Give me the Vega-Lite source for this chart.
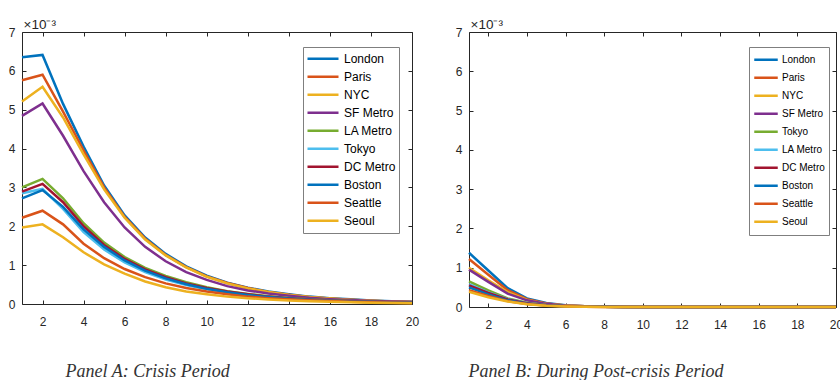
{
  "$schema": "https://vega.github.io/schema/vega-lite/v6.json",
  "background": "white",
  "padding": {"left": 8, "top": 17, "right": 0, "bottom": 0},
  "spacing": 36,
  "config": {
    "view": {"stroke": null},
    "axis": {
      "grid": false,
      "domainColor": "#262626",
      "domainWidth": 1,
      "tickColor": "#262626",
      "tickSize": -4,
      "tickWidth": 1,
      "labelFont": "Liberation Sans",
      "labelFontSize": 12,
      "labelColor": "#262626",
      "labelFlush": false,
      "labelPadding": 11
    }
  },
  "datasets": {
    "crisis": [
      {"t": 1, "London": 6.35, "Paris": 5.76, "NYC": 5.21, "SF Metro": 4.84, "LA Metro": 3.00, "Tokyo": 2.85, "DC Metro": 2.89, "Boston": 2.72, "Seattle": 2.22, "Seoul": 1.97},
      {"t": 2, "London": 6.41, "Paris": 5.90, "NYC": 5.59, "SF Metro": 5.16, "LA Metro": 3.22, "Tokyo": 2.96, "DC Metro": 3.09, "Boston": 2.93, "Seattle": 2.40, "Seoul": 2.05},
      {"t": 3, "London": 5.15, "Paris": 4.95, "NYC": 4.80, "SF Metro": 4.33, "LA Metro": 2.72, "Tokyo": 2.45, "DC Metro": 2.62, "Boston": 2.50, "Seattle": 2.05, "Seoul": 1.72},
      {"t": 4, "London": 4.05, "Paris": 3.95, "NYC": 3.85, "SF Metro": 3.42, "LA Metro": 2.08, "Tokyo": 1.85, "DC Metro": 2.00, "Boston": 1.92, "Seattle": 1.55, "Seoul": 1.33},
      {"t": 5, "London": 3.05, "Paris": 3.00, "NYC": 2.95, "SF Metro": 2.62, "LA Metro": 1.58, "Tokyo": 1.40, "DC Metro": 1.52, "Boston": 1.47, "Seattle": 1.18, "Seoul": 1.02},
      {"t": 6, "London": 2.28, "Paris": 2.24, "NYC": 2.22, "SF Metro": 1.97, "LA Metro": 1.21, "Tokyo": 1.07, "DC Metro": 1.16, "Boston": 1.12, "Seattle": 0.90, "Seoul": 0.78},
      {"t": 7, "London": 1.71, "Paris": 1.68, "NYC": 1.66, "SF Metro": 1.47, "LA Metro": 0.93, "Tokyo": 0.82, "DC Metro": 0.89, "Boston": 0.86, "Seattle": 0.69, "Seoul": 0.58},
      {"t": 8, "London": 1.29, "Paris": 1.26, "NYC": 1.25, "SF Metro": 1.10, "LA Metro": 0.72, "Tokyo": 0.63, "DC Metro": 0.69, "Boston": 0.66, "Seattle": 0.53, "Seoul": 0.43},
      {"t": 9, "London": 0.97, "Paris": 0.95, "NYC": 0.94, "SF Metro": 0.82, "LA Metro": 0.56, "Tokyo": 0.49, "DC Metro": 0.53, "Boston": 0.51, "Seattle": 0.41, "Seoul": 0.32},
      {"t": 10, "London": 0.73, "Paris": 0.71, "NYC": 0.70, "SF Metro": 0.62, "LA Metro": 0.43, "Tokyo": 0.38, "DC Metro": 0.41, "Boston": 0.39, "Seattle": 0.32, "Seoul": 0.25},
      {"t": 11, "London": 0.55, "Paris": 0.54, "NYC": 0.53, "SF Metro": 0.46, "LA Metro": 0.33, "Tokyo": 0.29, "DC Metro": 0.32, "Boston": 0.30, "Seattle": 0.25, "Seoul": 0.19},
      {"t": 12, "London": 0.42, "Paris": 0.41, "NYC": 0.40, "SF Metro": 0.35, "LA Metro": 0.26, "Tokyo": 0.23, "DC Metro": 0.25, "Boston": 0.23, "Seattle": 0.19, "Seoul": 0.15},
      {"t": 13, "London": 0.32, "Paris": 0.31, "NYC": 0.31, "SF Metro": 0.27, "LA Metro": 0.20, "Tokyo": 0.18, "DC Metro": 0.19, "Boston": 0.18, "Seattle": 0.15, "Seoul": 0.115},
      {"t": 14, "London": 0.25, "Paris": 0.24, "NYC": 0.23, "SF Metro": 0.21, "LA Metro": 0.155, "Tokyo": 0.14, "DC Metro": 0.15, "Boston": 0.14, "Seattle": 0.12, "Seoul": 0.09},
      {"t": 15, "London": 0.19, "Paris": 0.18, "NYC": 0.18, "SF Metro": 0.16, "LA Metro": 0.12, "Tokyo": 0.11, "DC Metro": 0.115, "Boston": 0.11, "Seattle": 0.095, "Seoul": 0.07},
      {"t": 16, "London": 0.15, "Paris": 0.14, "NYC": 0.14, "SF Metro": 0.125, "LA Metro": 0.095, "Tokyo": 0.085, "DC Metro": 0.09, "Boston": 0.085, "Seattle": 0.075, "Seoul": 0.055},
      {"t": 17, "London": 0.12, "Paris": 0.11, "NYC": 0.11, "SF Metro": 0.10, "LA Metro": 0.075, "Tokyo": 0.066, "DC Metro": 0.07, "Boston": 0.066, "Seattle": 0.058, "Seoul": 0.043},
      {"t": 18, "London": 0.09, "Paris": 0.085, "NYC": 0.085, "SF Metro": 0.08, "LA Metro": 0.06, "Tokyo": 0.052, "DC Metro": 0.055, "Boston": 0.052, "Seattle": 0.045, "Seoul": 0.034},
      {"t": 19, "London": 0.07, "Paris": 0.066, "NYC": 0.065, "SF Metro": 0.063, "LA Metro": 0.045, "Tokyo": 0.04, "DC Metro": 0.043, "Boston": 0.04, "Seattle": 0.035, "Seoul": 0.027},
      {"t": 20, "London": 0.055, "Paris": 0.052, "NYC": 0.05, "SF Metro": 0.05, "LA Metro": 0.035, "Tokyo": 0.032, "DC Metro": 0.033, "Boston": 0.032, "Seattle": 0.028, "Seoul": 0.021}
    ],
    "post": [
      {"t": 1, "London": 1.38, "Paris": 1.22, "NYC": 1.00, "SF Metro": 0.95, "Tokyo": 0.65, "LA Metro": 0.58, "DC Metro": 0.55, "Boston": 0.50, "Seattle": 0.43, "Seoul": 0.39},
      {"t": 2, "London": 0.93, "Paris": 0.82, "NYC": 0.68, "SF Metro": 0.64, "Tokyo": 0.42, "LA Metro": 0.37, "DC Metro": 0.36, "Boston": 0.32, "Seattle": 0.28, "Seoul": 0.25},
      {"t": 3, "London": 0.48, "Paris": 0.43, "NYC": 0.38, "SF Metro": 0.34, "Tokyo": 0.22, "LA Metro": 0.20, "DC Metro": 0.19, "Boston": 0.17, "Seattle": 0.15, "Seoul": 0.14},
      {"t": 4, "London": 0.22, "Paris": 0.20, "NYC": 0.18, "SF Metro": 0.17, "Tokyo": 0.11, "LA Metro": 0.10, "DC Metro": 0.095, "Boston": 0.085, "Seattle": 0.075, "Seoul": 0.07},
      {"t": 5, "London": 0.10, "Paris": 0.09, "NYC": 0.08, "SF Metro": 0.08, "Tokyo": 0.05, "LA Metro": 0.045, "DC Metro": 0.043, "Boston": 0.04, "Seattle": 0.035, "Seoul": 0.032},
      {"t": 6, "London": 0.045, "Paris": 0.04, "NYC": 0.036, "SF Metro": 0.035, "Tokyo": 0.022, "LA Metro": 0.02, "DC Metro": 0.019, "Boston": 0.018, "Seattle": 0.016, "Seoul": 0.014},
      {"t": 7, "London": 0.02, "Paris": 0.018, "NYC": 0.016, "SF Metro": 0.016, "Tokyo": 0.01, "LA Metro": 0.009, "DC Metro": 0.009, "Boston": 0.008, "Seattle": 0.007, "Seoul": 0.006},
      {"t": 8, "London": 0.009, "Paris": 0.008, "NYC": 0.007, "SF Metro": 0.007, "Tokyo": 0.005, "LA Metro": 0.004, "DC Metro": 0.004, "Boston": 0.004, "Seattle": 0.003, "Seoul": 0.003},
      {"t": 9, "London": 0.004, "Paris": 0.004, "NYC": 0.003, "SF Metro": 0.003, "Tokyo": 0.002, "LA Metro": 0.002, "DC Metro": 0.002, "Boston": 0.002, "Seattle": 0.001, "Seoul": 0.001},
      {"t": 10, "London": 0.002, "Paris": 0.002, "NYC": 0.001, "SF Metro": 0.001, "Tokyo": 0.001, "LA Metro": 0.001, "DC Metro": 0.001, "Boston": 0.001, "Seattle": 0.001, "Seoul": 0.0},
      {"t": 11, "London": 0.001, "Paris": 0.001, "NYC": 0.001, "SF Metro": 0.0, "Tokyo": 0.0, "LA Metro": 0.0, "DC Metro": 0.0, "Boston": 0.0, "Seattle": 0.0, "Seoul": 0.0},
      {"t": 12, "London": 0.0, "Paris": 0.0, "NYC": 0.0, "SF Metro": 0.0, "Tokyo": 0.0, "LA Metro": 0.0, "DC Metro": 0.0, "Boston": 0.0, "Seattle": 0.0, "Seoul": 0.0},
      {"t": 13, "London": 0.0, "Paris": 0.0, "NYC": 0.0, "SF Metro": 0.0, "Tokyo": 0.0, "LA Metro": 0.0, "DC Metro": 0.0, "Boston": 0.0, "Seattle": 0.0, "Seoul": 0.0},
      {"t": 14, "London": 0.0, "Paris": 0.0, "NYC": 0.0, "SF Metro": 0.0, "Tokyo": 0.0, "LA Metro": 0.0, "DC Metro": 0.0, "Boston": 0.0, "Seattle": 0.0, "Seoul": 0.0},
      {"t": 15, "London": 0.0, "Paris": 0.0, "NYC": 0.0, "SF Metro": 0.0, "Tokyo": 0.0, "LA Metro": 0.0, "DC Metro": 0.0, "Boston": 0.0, "Seattle": 0.0, "Seoul": 0.0},
      {"t": 16, "London": 0.0, "Paris": 0.0, "NYC": 0.0, "SF Metro": 0.0, "Tokyo": 0.0, "LA Metro": 0.0, "DC Metro": 0.0, "Boston": 0.0, "Seattle": 0.0, "Seoul": 0.0},
      {"t": 17, "London": 0.0, "Paris": 0.0, "NYC": 0.0, "SF Metro": 0.0, "Tokyo": 0.0, "LA Metro": 0.0, "DC Metro": 0.0, "Boston": 0.0, "Seattle": 0.0, "Seoul": 0.0},
      {"t": 18, "London": 0.0, "Paris": 0.0, "NYC": 0.0, "SF Metro": 0.0, "Tokyo": 0.0, "LA Metro": 0.0, "DC Metro": 0.0, "Boston": 0.0, "Seattle": 0.0, "Seoul": 0.0},
      {"t": 19, "London": 0.0, "Paris": 0.0, "NYC": 0.0, "SF Metro": 0.0, "Tokyo": 0.0, "LA Metro": 0.0, "DC Metro": 0.0, "Boston": 0.0, "Seattle": 0.0, "Seoul": 0.0},
      {"t": 20, "London": 0.0, "Paris": 0.0, "NYC": 0.0, "SF Metro": 0.0, "Tokyo": 0.0, "LA Metro": 0.0, "DC Metro": 0.0, "Boston": 0.0, "Seattle": 0.0, "Seoul": 0.0}
    ]
  },
  "hconcat": [
    {
      "width": 390,
      "height": 272,
      "data": {"name": "crisis"},
      "transform": [{"fold": ["London", "Paris", "NYC", "SF Metro", "LA Metro", "Tokyo", "DC Metro", "Boston", "Seattle", "Seoul"], "as": ["city", "v"]}],
      "layer": [
        {
          "mark": {"type": "line", "strokeWidth": 2.5},
          "encoding": {
            "x": {"field": "t", "type": "quantitative", "scale": {"domain": [1, 20], "nice": false, "zero": false},
              "axis": {"orient": "bottom", "values": [2, 4, 6, 8, 10, 12, 14, 16, 18, 20], "labelPadding": 16,
                "title": "Panel A: Crisis Period", "titleFont": "Liberation Serif", "titleFontStyle": "italic", "titleFontWeight": "normal", "titleFontSize": 18, "titleColor": "#333333",
                "titleX": 43, "titleY": 67, "titleAlign": "left", "titleBaseline": "middle"}},
            "y": {"field": "v", "type": "quantitative", "scale": {"domain": [0, 7], "nice": false},
              "axis": {"orient": "left", "values": [0, 1, 2, 3, 4, 5, 6, 7],
                "title": "×10⁻³", "titleFont": "Liberation Sans", "titleFontWeight": "normal", "titleFontSize": 13.5, "titleColor": "#262626",
                "titleAngle": 0, "titleX": 1, "titleY": -4, "titleAlign": "left", "titleBaseline": "alphabetic"}},
            "color": {"field": "city", "type": "nominal",
              "scale": {"domain": ["London", "Paris", "NYC", "SF Metro", "LA Metro", "Tokyo", "DC Metro", "Boston", "Seattle", "Seoul"],
                "range": ["#0072BD", "#D95319", "#EDB120", "#7E2F8E", "#77AC30", "#4DBEEE", "#A2142F", "#0072BD", "#D95319", "#EDB120"]},
              "legend": {"orient": "none", "legendX": 281, "legendY": 15, "title": null, "symbolType": "stroke", "symbolSize": 961, "symbolStrokeWidth": 2.5,
                "labelFont": "Liberation Sans", "labelFontSize": 12, "labelColor": "#000000", "labelOffset": 4,
                "strokeColor": "#7f7f7f", "fillColor": "white", "padding": 3, "rowPadding": 0, "clipHeight": 17.7}}
          }
        },
        {
          "mark": {"type": "point", "opacity": 0},
          "encoding": {
            "x": {"field": "t", "type": "quantitative", "axis": {"orient": "top", "values": [2, 4, 6, 8, 10, 12, 14, 16, 18, 20], "labels": false, "title": null}},
            "y": {"field": "v", "type": "quantitative", "axis": {"orient": "right", "values": [0, 1, 2, 3, 4, 5, 6, 7], "labels": false, "title": null}}
          }
        }
      ],
      "resolve": {"axis": {"x": "independent", "y": "independent"}}
    },
    {
      "width": 367,
      "height": 275,
      "data": {"name": "post"},
      "transform": [{"fold": ["London", "Paris", "NYC", "SF Metro", "Tokyo", "LA Metro", "DC Metro", "Boston", "Seattle", "Seoul"], "as": ["city", "v"]}],
      "layer": [
        {
          "mark": {"type": "line", "strokeWidth": 2.5},
          "encoding": {
            "x": {"field": "t", "type": "quantitative", "scale": {"domain": [1, 20], "nice": false, "zero": false},
              "axis": {"orient": "bottom", "values": [2, 4, 6, 8, 10, 12, 14, 16, 18, 20], "labelPadding": 16,
                "title": "Panel B: During Post-crisis Period", "titleFont": "Liberation Serif", "titleFontStyle": "italic", "titleFontWeight": "normal", "titleFontSize": 18, "titleColor": "#333333",
                "titleX": -1, "titleY": 64, "titleAlign": "left", "titleBaseline": "middle"}},
            "y": {"field": "v", "type": "quantitative", "scale": {"domain": [0, 7], "nice": false},
              "axis": {"orient": "left", "values": [0, 1, 2, 3, 4, 5, 6, 7],
                "title": "×10⁻³", "titleFont": "Liberation Sans", "titleFontWeight": "normal", "titleFontSize": 13.5, "titleColor": "#262626",
                "titleAngle": 0, "titleX": 1, "titleY": -4, "titleAlign": "left", "titleBaseline": "alphabetic"}},
            "color": {"field": "city", "type": "nominal",
              "scale": {"domain": ["London", "Paris", "NYC", "SF Metro", "Tokyo", "LA Metro", "DC Metro", "Boston", "Seattle", "Seoul"],
                "range": ["#0072BD", "#D95319", "#EDB120", "#7E2F8E", "#77AC30", "#4DBEEE", "#A2142F", "#0072BD", "#D95319", "#EDB120"]},
              "legend": {"orient": "none", "legendX": 280, "legendY": 15, "title": null, "symbolType": "stroke", "symbolSize": 552, "symbolStrokeWidth": 2.5,
                "labelFont": "Liberation Sans", "labelFontSize": 10, "labelColor": "#000000", "labelOffset": 3,
                "strokeColor": "#7f7f7f", "fillColor": "white", "padding": 4, "rowPadding": 0, "clipHeight": 17.6}}
          }
        },
        {
          "mark": {"type": "point", "opacity": 0},
          "encoding": {
            "x": {"field": "t", "type": "quantitative", "axis": {"orient": "top", "values": [2, 4, 6, 8, 10, 12, 14, 16, 18, 20], "labels": false, "title": null}},
            "y": {"field": "v", "type": "quantitative", "axis": {"orient": "right", "values": [0, 1, 2, 3, 4, 5, 6, 7], "labels": false, "title": null}}
          }
        }
      ],
      "resolve": {"axis": {"x": "independent", "y": "independent"}}
    }
  ],
  "resolve": {"scale": {"color": "independent", "x": "independent", "y": "independent"}, "legend": {"color": "independent"}}
}
